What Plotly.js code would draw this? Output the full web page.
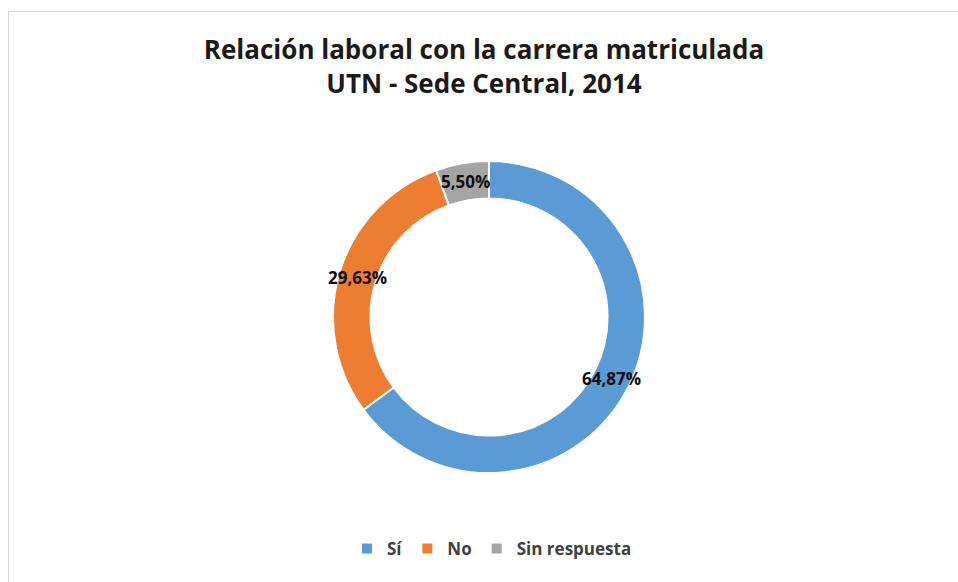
<!DOCTYPE html>
<html>
<head>
<meta charset="utf-8">
<script src="https://cdn.plot.ly/plotly-3.0.1.min.js"></script>
<style>
  html, body { margin: 0; padding: 0; background: #ffffff; }
  #frame { position: absolute; left: 8px; top: 11px; width: 960px; height: 580px;
           border-top: 1px solid #d9d9d9; border-left: 1px solid #d9d9d9; }
  #chart { position: absolute; left: 0; top: 0; width: 958px; height: 582px; }
</style>
</head>
<body>
<div id="frame"></div>
<div id="chart"></div>
<script>
const categories = ["Sí", "No", "Sin respuesta"];
const values = [64.87, 29.63, 5.50];
const colors = ["#5B9BD5", "#ED7D31", "#A5A5A5"];
const titleLines = ["Relación laboral con la carrera matriculada", "UTN - Sede Central, 2014"];

const W = 958, H = 582;
const cx = 489, cy = 317, R = 156;
const HOLE = 0.76;
const FONT = "'Open Sans', sans-serif";

const trace = {
  type: "pie",
  labels: categories,
  values: values,
  sort: false,
  direction: "clockwise",
  rotation: 0,
  hole: HOLE,
  marker: { colors: colors, line: { color: "#ffffff", width: 2 } },
  textinfo: "none",
  hoverinfo: "label+percent",
  domain: { x: [(cx - R - 40) / W, (cx + R + 40) / W], y: [(H - cy - R) / H, (H - cy + R) / H] }
};

// data labels placed at the middle of each ring segment (angles derived from values)
const total = values.reduce((a, b) => a + b, 0);
const rMid = R * (1 + HOLE) / 2;
let cum = 0;
const annotations = values.map((v, i) => {
  const mid = (cum + v / 2) / total * 2 * Math.PI;
  cum += v;
  const px = cx + rMid * Math.sin(mid);
  const py = cy - rMid * Math.cos(mid);
  return {
    xref: "paper", yref: "paper",
    x: px / W, y: 1 - py / H,
    xanchor: "center", yanchor: "middle",
    showarrow: false,
    text: "<b>" + v.toFixed(2).replace(".", ",") + "%</b>",
    font: { family: FONT, size: 17, color: "#0d0d0d" }
  };
});

const layout = {
  width: W, height: H,
  margin: { l: 0, r: 0, t: 0, b: 0 },
  paper_bgcolor: "rgba(0,0,0,0)",
  plot_bgcolor: "rgba(0,0,0,0)",
  separators: ",.",
  title: {
    text: "<b>" + titleLines.join("<br>") + "</b>",
    x: 484 / W, xanchor: "center",
    y: 1 - 59 / H, yanchor: "top", yref: "container",
    font: { family: FONT, size: 26, color: "#1a1a1a" }
  },
  annotations: annotations,
  showlegend: true,
  legend: {
    orientation: "h",
    x: 492 / W, xanchor: "center",
    y: 1 - 549 / H, yanchor: "middle",
    itemwidth: 30,
    font: { family: FONT, size: 17, color: "#404040", weight: "bold" },
    traceorder: "normal"
  }
};

Plotly.newPlot("chart", [trace], layout, { displayModeBar: false, staticPlot: true });
</script>
</body>
</html>
